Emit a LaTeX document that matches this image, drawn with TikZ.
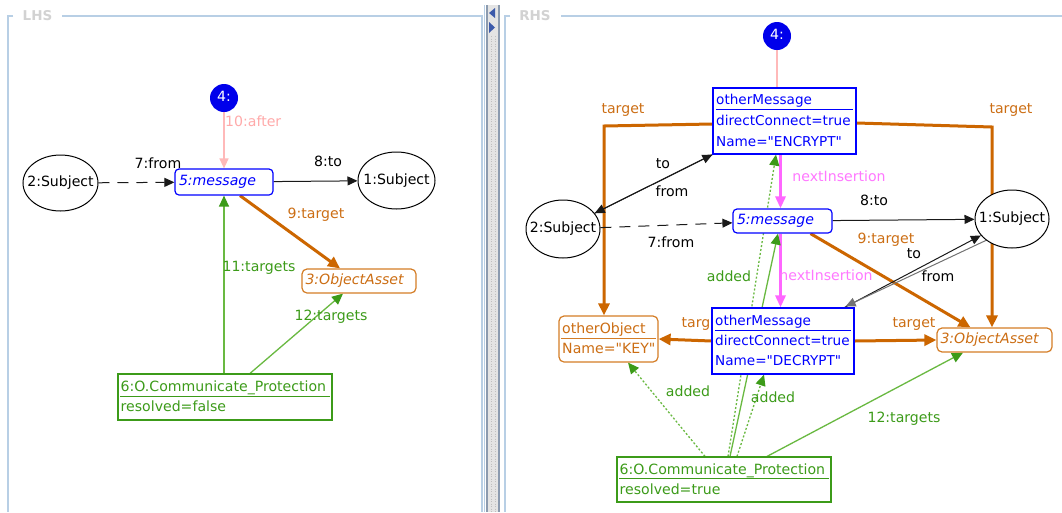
\documentclass[tikz,border=0pt]{standalone}
\usepackage{fontspec}
\setmainfont{DejaVu Sans}[Ligatures=TeXOff]
\usetikzlibrary{arrows.meta,shapes.geometric,calc}
\definecolor{umlblue}{RGB}{0,0,255}
\definecolor{circblue}{RGB}{0,0,235}
\definecolor{orng}{RGB}{204,102,0}
\definecolor{orngtxt}{RGB}{204,110,20}
\definecolor{grntxt}{RGB}{60,155,25}
\definecolor{grnline}{RGB}{105,185,65}
\definecolor{grnhead}{RGB}{60,155,25}
\definecolor{pinkA}{RGB}{255,185,185}
\definecolor{pinkAtxt}{RGB}{255,170,170}
\definecolor{magA}{RGB}{255,102,255}
\definecolor{magAtxt}{RGB}{255,120,255}
\definecolor{panel}{RGB}{184,207,229}
\definecolor{ttl}{RGB}{210,210,210}
\definecolor{divfill}{RGB}{228,228,228}
\definecolor{divedge}{RGB}{140,155,175}
\definecolor{arrblue}{RGB}{60,90,170}
\definecolor{edgeblk}{RGB}{25,25,25}
\pgfdeclarelayer{bgl}
\pgfdeclarelayer{edgel}
\pgfsetlayers{bgl,edgel,main}
\begin{document}
\begin{tikzpicture}[x=1pt,y=-1pt,
  txt/.style={font=\fontsize{14.1}{16}\selectfont, inner sep=0pt, text height=10pt, text depth=3pt},
  btxt/.style={font=\fontsize{13.6}{16}\selectfont, inner sep=0pt, text height=10pt, text depth=3pt},
  lbl/.style={txt},
  subj/.style={ellipse, draw=black, line width=1pt, fill=white, inner sep=0pt},
  ublue/.style={draw=umlblue, line width=1.2pt, fill=white, inner sep=0pt},
  uorng/.style={draw=orng!85, line width=1.2pt, fill=white, inner sep=0pt, rounded corners=5pt},
  ugrn/.style={draw=grntxt, line width=1.2pt, fill=white, inner sep=0pt},
  msgbox/.style={draw=umlblue, line width=1.2pt, fill=white, rounded corners=4pt, txt, inner xsep=4pt, inner ysep=0pt, align=left, text=umlblue, font=\fontsize{14.1}{16}\selectfont\itshape},
  oabox/.style={draw=orng!85, line width=1.2pt, fill=white, rounded corners=5pt, txt, inner xsep=3.5pt, inner ysep=0pt, align=left, text=orngtxt, font=\fontsize{14.1}{16}\selectfont\itshape},
  circ/.style={circle, fill=circblue, text=white, minimum size=28pt, inner sep=0pt, txt},
  tipA/.style={-{Triangle[length=10pt,width=9pt]}},
  blkedge/.style={draw=edgeblk, line width=1pt, tipA},
  blkdash/.style={blkedge, dash pattern=on 11pt off 8pt},
  orngedge/.style={draw=orng, line width=3pt, -{Triangle[length=12pt,width=11pt]}},
  magedge/.style={draw=magA, line width=3pt, -{Triangle[length=12pt,width=10pt]}},
  pinkedge/.style={draw=pinkA, line width=1.3pt, -{Triangle[length=10pt,width=9pt]}},
  pinkline/.style={draw=pinkA, line width=1.3pt},
  grnedge/.style={draw=grnline, line width=1.3pt, -{Triangle[length=11pt,width=10pt,color=grnhead]}},
  grndot/.style={grnedge, dash pattern=on 2pt off 2pt},
  sep/.style={line width=1.1pt}
]
\useasboundingbox (0,0) rectangle (1062,512);
\begin{pgfonlayer}{bgl}
  \fill[white] (0,0) rectangle (1062,512);
  \draw[panel, line width=1.2pt] (13,16) -- (8,16) -- (8,512);
  \draw[panel, line width=1.2pt] (62,16) -- (482,16) -- (482,512);
  \draw[panel, line width=1.2pt] (510,16) -- (505,16) -- (505,512);
  \draw[panel, line width=1.2pt] (561,16) -- (1062,16);
  \draw[panel, line width=0.8pt] (484.5,5) -- (484.5,512);
  \fill[divfill] (487,5) rectangle (499,512);
  \draw[black!25, dash pattern=on 1pt off 1.5pt, line width=0.8pt] (491,36) -- (491,512);
  \draw[black!25, dash pattern=on 1pt off 1.5pt, line width=0.8pt] (495,36) -- (495,512);
  \draw[divedge, line width=1.4pt] (487,5) -- (487,512);
  \draw[divedge, line width=1.4pt] (499,5) -- (499,512);
  \fill[arrblue] (495,8) -- (489,13) -- (495,18) -- cycle;
  \fill[arrblue] (489,22) -- (495,27.5) -- (489,33) -- cycle;
\end{pgfonlayer}
\node[font=\bfseries\fontsize{13.5}{15}\selectfont, text=ttl, inner sep=0pt] (lhs) at (37.5,16) {LHS};
\node[font=\bfseries\fontsize{13.5}{15}\selectfont, text=ttl, inner sep=0pt] (rhs) at (535,16) {RHS};

% ---------------- LHS nodes
\node[circ] (c4L) at (224,98) {4:};
\node[msgbox, text width=90pt, minimum height=26pt] (msgL) at (224,182) {5:message};
\node[subj, minimum width=75pt, minimum height=56pt, label={[txt]center:2:Subject}] (subL2) at (60.5,183) {};
\node[subj, minimum width=77pt, minimum height=57pt, label={[txt]center:1:Subject}] (subL1) at (396.5,180.5) {};
\node[oabox, text width=107pt, minimum height=24pt] (oaL) at (359,281) {3:ObjectAsset};
\node[ugrn, minimum width=214pt, minimum height=46pt] (cpL) at (225,397) {};
\node[txt, text=grntxt, anchor=west] (cpLa) at (120.5,387.5) {6:O.Communicate\_Protection};
\node[txt, text=grntxt, anchor=west] (cpLb) at (120.5,408) {resolved=false};
\draw[grntxt, sep] ($(cpL.north west)+(3,23)$) -- ($(cpL.north east)+(-3,23)$);

% LHS labels
\node[lbl, text=pinkAtxt, anchor=west] (l10) at (225,123) {10:after};
\node[lbl] (l7) at (158,165) {7:from};
\node[lbl] (l8) at (328,163) {8:to};
\node[lbl, text=orngtxt] (l9) at (316,215) {9:target};
\node[lbl, text=grntxt] (l11) at (259,268) {11:targets};
\node[lbl, text=grntxt] (l12) at (331,317) {12:targets};

% ---------------- RHS nodes
\node[circ] (c4R) at (777,36) {4:};
\node[ublue, minimum width=143pt, minimum height=66pt] (enc) at (784.5,121) {};
\node[btxt, text=umlblue, anchor=west] (encA) at (716,100.5) {otherMessage};
\node[btxt, text=umlblue, anchor=west] (encB) at (716,121.5) {directConnect=true};
\node[btxt, text=umlblue, anchor=west] (encC) at (716,142.5) {Name="ENCRYPT"};
\draw[umlblue, sep] ($(enc.north west)+(4,22.5)$) -- ($(enc.north east)+(-4,22.5)$);

\node[msgbox, text width=91pt, minimum height=24pt] (msgR) at (782.5,221) {5:message};
\node[subj, minimum width=74pt, minimum height=58pt, label={[txt]center:2:Subject}] (subR2) at (563,229) {};
\node[subj, minimum width=74pt, minimum height=58pt, label={[txt]center:1:Subject}] (subR1) at (1012,219) {};

\node[ublue, minimum width=142pt, minimum height=66pt] (dec) at (783,341) {};
\node[btxt, text=umlblue, anchor=west] (decA) at (715,322) {otherMessage};
\node[btxt, text=umlblue, anchor=west] (decB) at (715,342) {directConnect=true};
\node[btxt, text=umlblue, anchor=west] (decC) at (715,362) {Name="DECRYPT"};
\draw[umlblue, sep] ($(dec.north west)+(4,23)$) -- ($(dec.north east)+(-4,23)$);

\node[uorng, minimum width=99pt, minimum height=46pt] (oo) at (608.5,339) {};
\node[txt, text=orngtxt, anchor=west] (ooA) at (562,329.5) {otherObject};
\node[txt, text=orngtxt, anchor=west] (ooB) at (562,350) {Name="KEY"};
\draw[orng!85, sep] ($(oo.north west)+(3,23)$) -- ($(oo.north east)+(-3,23)$);

\node[oabox, text width=108pt, minimum height=24pt] (oaR) at (994.5,340) {3:ObjectAsset};

\node[ugrn, minimum width=214pt, minimum height=45pt] (cpR) at (724,479.5) {};
\node[txt, text=grntxt, anchor=west] (cpRa) at (619.5,470.5) {6:O.Communicate\_Protection};
\node[txt, text=grntxt, anchor=west] (cpRb) at (619.5,491) {resolved=true};
\draw[grntxt, sep] ($(cpR.north west)+(3,22)$) -- ($(cpR.north east)+(-3,22)$);

% RHS labels
\node[lbl, text=orngtxt] (rtl) at (623,110) {target};
\node[lbl, text=orngtxt] (rtr) at (1011,110) {target};
\node[lbl, text=magAtxt] (rn1) at (839,178) {nextInsertion};
\node[lbl, text=magAtxt] (rn2) at (826,277) {nextInsertion};
\node[lbl] (rto1) at (663,165) {to};
\node[lbl] (rfr1) at (672,193) {from};
\node[lbl] (r7) at (671,244) {7:from};
\node[lbl] (r8) at (874,202) {8:to};
\node[lbl, text=orngtxt] (r9) at (886,240) {9:target};
\node[lbl] (rto2) at (914,255) {to};
\node[lbl] (rfr2) at (938,278) {from};
\node[lbl, text=orngtxt] (rtg) at (914,324) {target};
\node[lbl, text=grntxt] (rad1) at (729,278) {added};
\node[lbl, text=grntxt] (rad2) at (773,399) {added};
\node[lbl, text=grntxt] (rad3) at (688,393) {added};
\node[lbl, text=grntxt] (r12) at (904,419) {12:targets};
\node[lbl, text=orngtxt, anchor=east] (rtgl) at (710.5,324) {targ};

% ---------------- edges
\begin{pgfonlayer}{edgel}
  % LHS
  \draw[pinkedge] (c4L) -- (msgL);
  \draw[blkdash] (subL2) -- (msgL);
  \draw[blkedge] (msgL) -- (subL1);
  \draw[orngedge] ($(msgL.south)+(16,0)$) -- ($(oaL.north)+(-19,0)$);
  \draw[grnedge] (msgL.south |- cpL.north) -- (msgL.south);
  \draw[grnedge] ($(cpL.north)+(25,0)$) -- ($(oaL.south)+(-16,0)$);
  % RHS
  \draw[pinkline] (c4R) -- (c4R |- enc.north);
  \coordinate (tl) at (604,126);
  \coordinate (tr) at (992,127);
  \draw[orngedge] ($(enc.west)+(0,3)$) -- (tl) -- (tl |- oo.north);
  \draw[orngedge] ($(enc.east)+(0,2)$) -- (tr) -- (tr |- oaR.north);
  \coordinate (mx) at ($(msgR.north)+(-2,0)$);
  \draw[magedge] (enc.south -| mx) -- (mx);
  \draw[magedge] (msgR.south -| mx) -- (dec.north -| mx);
  \draw[blkedge] (subR2) -- (enc.south west);
  \draw[blkedge] (enc.south west) -- (subR2);
  \draw[blkdash] (subR2) -- (msgR);
  \draw[blkedge] (msgR) -- (subR1);
  \draw[orngedge] ($(msgR.south)+(28,0)$) -- ($(oaR.north)+(-24,0)$);
  \draw[blkedge] ($(dec.north east)+(-10,0)$) -- (subR1);
  \draw[blkedge, draw=black!55] ($(subR1.south west)+(8,-3)$) -- ($(dec.north east)+(-9,-1)$);
  \draw[orngedge] (dec.east) -- (oaR.west);
  \draw[orngedge] (dec.west) -- (oo.east);
  \draw[grnedge] ($(cpR.north)+(6,0)$) -- ($(msgR.south)+(-4.5,0)$);
  \draw[grndot] ($(cpR.north)+(4,0)$) -- ($(enc.south)+(-8.5,0)$);
  \draw[grndot] ($(cpR.north)+(13,0)$) -- ($(dec.south)+(-19,0)$);
  \draw[grndot] ($(cpR.north)+(-19,0)$) -- ($(oo.south)+(19.5,0)$);
  \draw[grnedge] ($(cpR.north)+(43,0)$) -- ($(oaR.south)+(-31.5,0)$);
\end{pgfonlayer}
\end{tikzpicture}
\end{document}
